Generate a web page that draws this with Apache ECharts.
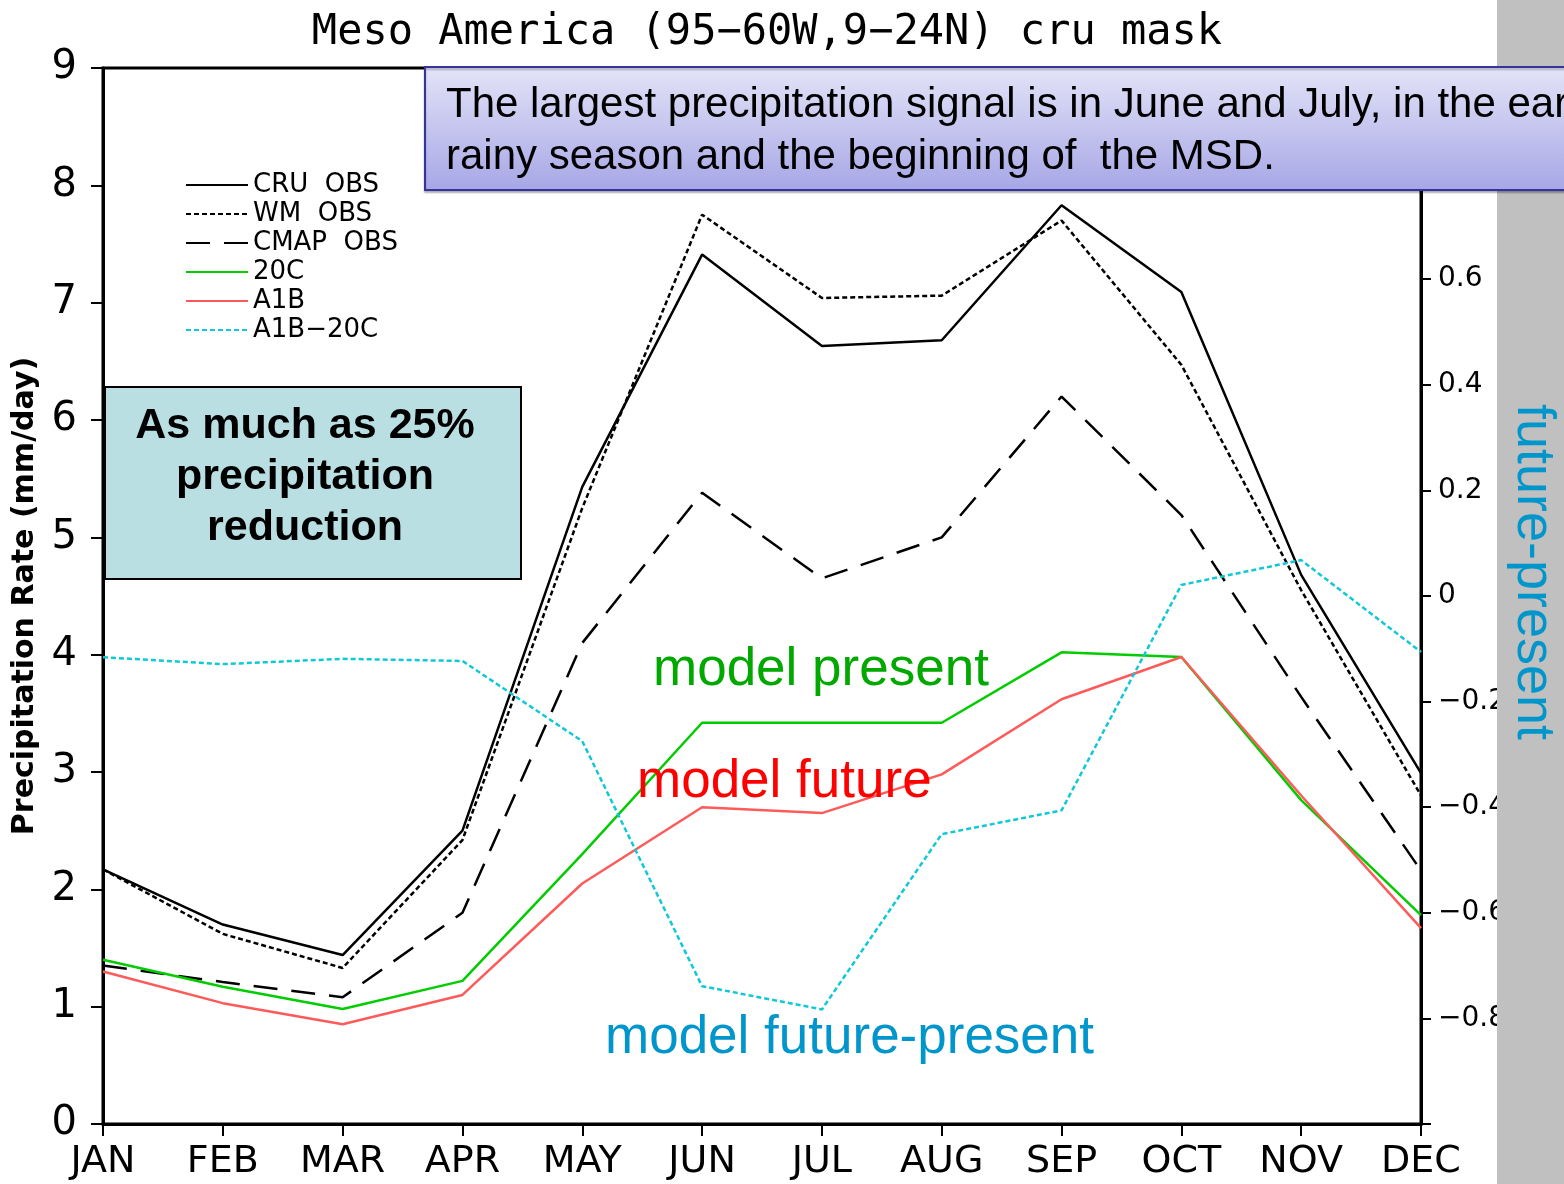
<!DOCTYPE html>
<html>
<head>
<meta charset="utf-8">
<script src="https://cdn.jsdelivr.net/npm/echarts@6/dist/echarts.min.js"></script>
<style>
  html, body { margin: 0; padding: 0; background: #fff; }
  #chart { width: 1564px; height: 1184px; }
</style>
</head>
<body>
<div id="chart"></div>
<script>
'use strict';
// monthly values
let months = ['JAN', 'FEB', 'MAR', 'APR', 'MAY', 'JUN', 'JUL', 'AUG', 'SEP', 'OCT', 'NOV', 'DEC'];
let cruObs = [2.17, 1.70, 1.44, 2.50, 5.43, 7.41, 6.63, 6.68, 7.83, 7.09, 4.68, 2.99];
let wmObs = [2.17, 1.62, 1.33, 2.42, 5.25, 7.75, 7.04, 7.06, 7.70, 6.47, 4.55, 2.80];
let cmapObs = [1.35, 1.21, 1.08, 1.80, 4.10, 5.38, 4.65, 5.00, 6.20, 5.19, 3.64, 2.16];
let model20c = [1.40, 1.17, 0.98, 1.22, 2.30, 3.42, 3.42, 3.42, 4.02, 3.98, 2.76, 1.78];
let modelA1b = [1.30, 1.03, 0.85, 1.10, 2.05, 2.70, 2.65, 2.98, 3.62, 3.98, 2.80, 1.67];
let diffA1b20c = [-0.116, -0.129, -0.119, -0.123, -0.275, -0.739, -0.783, -0.451, -0.406, 0.021, 0.068, -0.106];

let gradsFont = '"DejaVu Sans", sans-serif';
let slideFont = '"Liberation Sans", Arial, sans-serif';

let instance = echarts.init(document.getElementById('chart'));

function lineSeries(name, data, color, type, axis) {
    return {
        name: name,
        type: 'line',
        data: data,
        yAxisIndex: axis || 0,
        symbol: 'none',
        animation: false,
        lineStyle: { color: color, width: 2.5, type: type },
        itemStyle: { color: color }
    };
}

instance.setOption({
    animation: false,
    title: {
        text: 'Meso America (95\u221260W,9\u221224N) cru mask',
        left: 762,
        textAlign: 'center',
        top: 7,
        textStyle: { fontFamily: '"DejaVu Sans Mono", monospace', fontSize: 42, fontWeight: 'normal', color: '#000' }
    },
    grid: {
        left: 103, right: 143, top: 68, bottom: 60,
        outerBoundsMode: 'none',
        containLabel: false,
        show: true, borderColor: '#000', borderWidth: 3, backgroundColor: 'transparent'
    },
    legend: {
        orient: 'vertical',
        left: 180,
        top: 167,
        itemWidth: 62,
        itemHeight: 14,
        itemGap: 3,
        itemStyle: { opacity: 0 },
        textStyle: { fontFamily: gradsFont, fontSize: 26, lineHeight: 26, color: '#000', padding: [0, 0, 0, 0] },
        data: ['CRU  OBS', 'WM  OBS', 'CMAP  OBS', '20C', 'A1B', 'A1B\u221220C']
    },
    xAxis: {
        type: 'category',
        data: months,
        boundaryGap: false,
        axisLine: { lineStyle: { color: '#000', width: 3 } },
        axisTick: { alignWithLabel: true, length: 12, lineStyle: { color: '#000', width: 2 } },
        axisLabel: { fontFamily: gradsFont, fontSize: 38, color: '#000', margin: 19 },
        splitLine: { show: false }
    },
    yAxis: [{
        type: 'value',
        min: 0, max: 9, interval: 1,
        name: 'Precipitation Rate (mm/day)',
        nameLocation: 'middle',
        nameGap: 62,
        nameRotate: 90,
        nameTextStyle: { fontFamily: gradsFont, fontSize: 30, fontWeight: 'bold', color: '#000' },
        axisLine: { show: true, lineStyle: { color: '#000', width: 3 } },
        axisTick: { show: true, length: 12, lineStyle: { color: '#000', width: 2 } },
        axisLabel: { fontFamily: gradsFont, fontSize: 40, color: '#000', margin: 26 },
        splitLine: { show: false }
    }, {
        type: 'value',
        min: -1, max: 1, interval: 0.2,
        position: 'right',
        axisLine: { show: true, lineStyle: { color: '#000', width: 3 } },
        axisTick: { show: true, length: 10, lineStyle: { color: '#000', width: 2 } },
        axisLabel: {
            fontFamily: gradsFont, fontSize: 28, color: '#000', margin: 17,
            formatter: (v) => {
                if (Math.abs(v) > 0.99) return '';
                if (Math.abs(v) < 1e-6) return '0';
                return (v < 0 ? '\u2212' : '') + Math.abs(v).toFixed(1);
            }
        },
        splitLine: { show: false }
    }],
    series: [
        lineSeries('CRU  OBS', cruObs, '#000', 'solid'),
        lineSeries('WM  OBS', wmObs, '#000', [5, 3]),
        lineSeries('CMAP  OBS', cmapObs, '#000', [24, 14]),
        lineSeries('20C', model20c, '#00cc00', 'solid'),
        lineSeries('A1B', modelA1b, '#ff5a5a', 'solid'),
        lineSeries('A1B\u221220C', diffA1b20c, '#10c8d6', [5, 3], 1)
    ],
    graphic: [
        {
            type: 'rect', z: 50,
            shape: { x: 1497, y: 0, width: 67, height: 1184 },
            style: { fill: '#c0c0c0' }
        },
        {
            type: 'text', z: 51,
            x: 1533, y: 572, rotation: -Math.PI / 2,
            style: { text: 'future-present', fill: '#0096cc', font: '54px ' + slideFont, textAlign: 'center', textVerticalAlign: 'middle' }
        },
        {
            type: 'rect', z: 60,
            shape: { x: 425, y: 67, width: 1160, height: 123 },
            style: {
                fill: new echarts.graphic.LinearGradient(0, 0, 0, 1, [
                    { offset: 0, color: '#e4e4f8' },
                    { offset: 1, color: '#a6a6e6' }
                ]),
                stroke: '#34349a', lineWidth: 2,
                shadowColor: 'rgba(0,0,0,0.25)', shadowOffsetY: 2, shadowBlur: 2
            }
        },
        {
            type: 'text', z: 61,
            x: 446, y: 105,
            style: { text: 'The largest precipitation signal is in June and July, in the early', fill: '#000', font: '42px ' + slideFont, textVerticalAlign: 'middle' }
        },
        {
            type: 'text', z: 61,
            x: 446, y: 157,
            style: { text: 'rainy season and the beginning of  the MSD.', fill: '#000', font: '42px ' + slideFont, textVerticalAlign: 'middle' }
        },
        {
            type: 'rect', z: 60,
            shape: { x: 105, y: 387, width: 416, height: 192 },
            style: { fill: '#b9dfe3', stroke: '#000', lineWidth: 2 }
        },
        {
            type: 'text', z: 61,
            x: 305, y: 477,
            style: {
                text: 'As much as 25%\nprecipitation\nreduction',
                fill: '#000', font: 'bold 43px ' + slideFont,
                lineHeight: 51, textAlign: 'center', textVerticalAlign: 'middle'
            }
        },
        {
            type: 'text', z: 40,
            x: 653, y: 670,
            style: { text: 'model present', fill: '#00a800', font: '53px ' + slideFont, textVerticalAlign: 'middle' }
        },
        {
            type: 'text', z: 40,
            x: 637, y: 782,
            style: { text: 'model future', fill: '#ff0000', font: '53px ' + slideFont, textVerticalAlign: 'middle' }
        },
        {
            type: 'text', z: 40,
            x: 605, y: 1038,
            style: { text: 'model future-present', fill: '#0096cc', font: '53px ' + slideFont, textVerticalAlign: 'middle' }
        }
    ]
});

window.onresize = () => {
    instance.resize();
};
</script>
</body>
</html>
